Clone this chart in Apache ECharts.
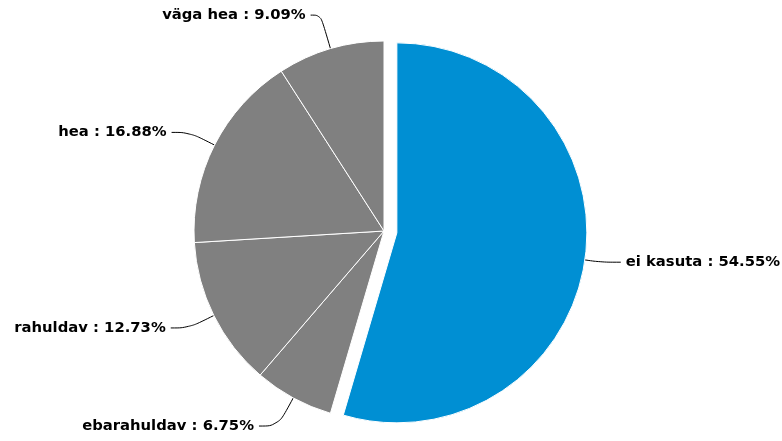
<!DOCTYPE html>
<html>
<head>
<meta charset="utf-8">
<script src="https://cdn.jsdelivr.net/npm/echarts@6/dist/echarts.min.js"></script>
<style>
  html, body { margin: 0; padding: 0; background: #fff; }
  #chart { width: 782px; height: 441px; }
</style>
</head>
<body>
<div id="chart"></div>
<script>
var names = ['ei kasuta', 'ebarahuldav', 'rahuldav', 'hea', 'väga hea'];
var values = [54.55, 6.75, 12.73, 16.88, 9.09];
var colors = ['#008fd3', '#808080', '#808080', '#808080', '#808080'];
// connector segment lengths per slice
var lineLen = [16, 32, 28, 28, 35];
var lineLen2 = [20, 19, 18, 18, 10];

var chart = echarts.init(document.getElementById('chart'));

var data = names.map(function (n, i) {
    return {
        name: n,
        value: values[i],
        selected: i === 0,
        itemStyle: { color: colors[i] },
        labelLine: { length: lineLen[i], length2: lineLen2[i] }
    };
});

var option = {
    animation: false,
    series: [{
        type: 'pie',
        center: [384, 231],
        radius: [0, 190],
        startAngle: 90,
        selectedMode: 'single',
        selectedOffset: 13,
        avoidLabelOverlap: true,
        itemStyle: {
            borderColor: '#fff',
            borderWidth: 1
        },
        label: {
            show: true,
            formatter: function (p) {
                return p.name + ' : ' + p.value.toFixed(2) + '%';
            },
            fontFamily: 'DejaVu Sans',
            fontWeight: 'bold',
            fontSize: 14.8,
            color: '#000'
        },
        labelLine: {
            show: true,
            smooth: 0.4,
            lineStyle: { color: '#000', width: 1 }
        },
        emphasis: { scale: false },
        data: data
    }]
};

chart.setOption(option);
window.addEventListener('resize', function () {
    chart.resize();
});
</script>
</body>
</html>
